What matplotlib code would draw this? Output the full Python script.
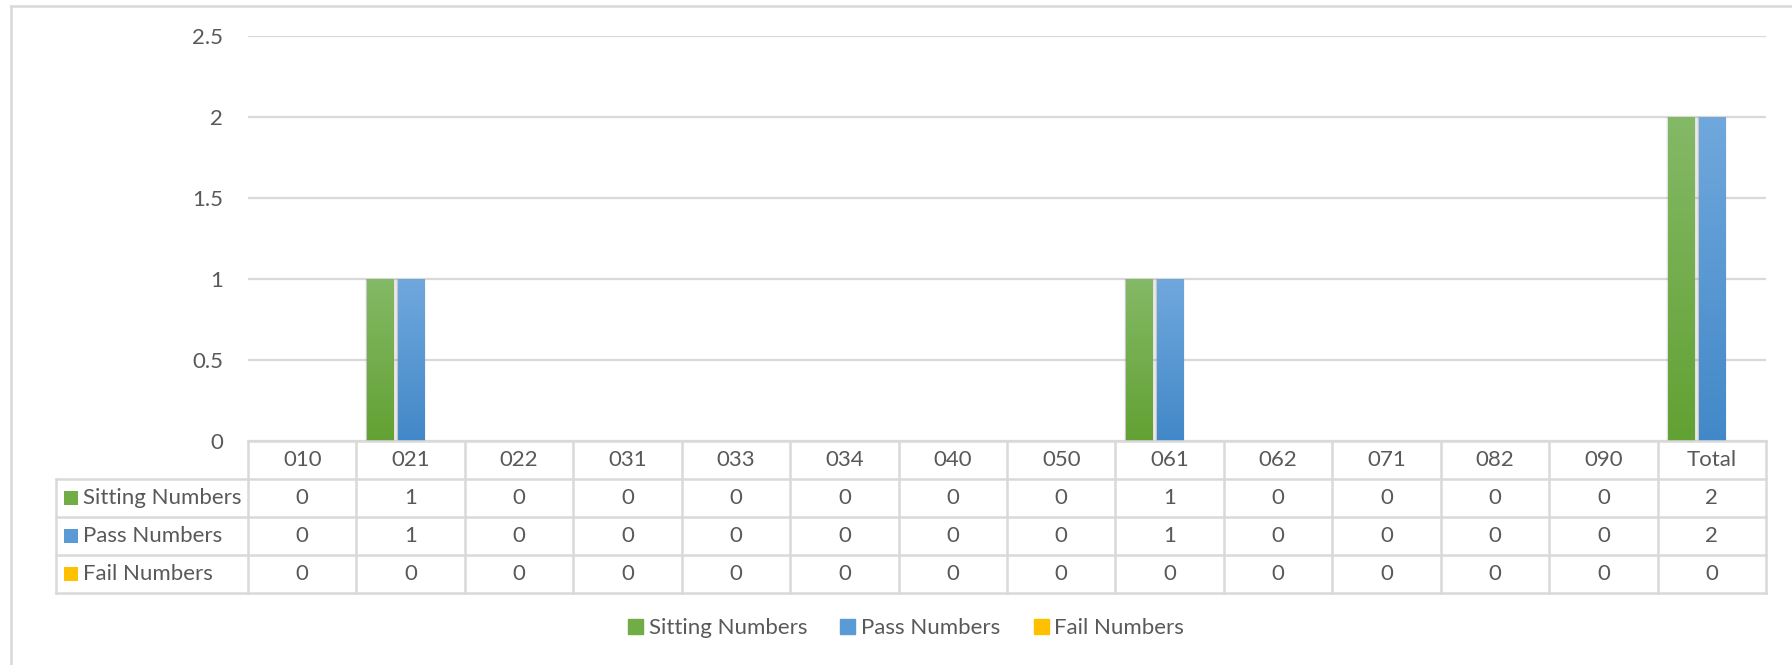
import numpy as np
import matplotlib.pyplot as plt
from matplotlib.patches import Rectangle
from matplotlib.colors import LinearSegmentedColormap

plt.rcParams['font.family'] = ['Lato', 'DejaVu Sans']

categories = ['010', '021', '022', '031', '033', '034', '040', '050', '061', '062', '071', '082', '090', 'Total']
series_names = ['Sitting Numbers', 'Pass Numbers', 'Fail Numbers']
sitting = [0, 1, 0, 0, 0, 0, 0, 0, 1, 0, 0, 0, 0, 2]
passed = [0, 1, 0, 0, 0, 0, 0, 0, 1, 0, 0, 0, 0, 2]
failed = [0, 0, 0, 0, 0, 0, 0, 0, 0, 0, 0, 0, 0, 0]
yticks = [0, 0.5, 1, 1.5, 2, 2.5]
ytick_labels = ['0', '0.5', '1', '1.5', '2', '2.5']

colors = ['#70AD47', '#5B9BD5', '#FFC000']
grad_top = ['#84B966', '#70A8DD', '#FFCB40']
grad_bot = ['#62A133', '#4288C8', '#F0B400']
txt = '#595959'
grid = '#D9D9D9'

W, H = 1792, 665
fig = plt.figure(figsize=(W / 100, H / 100), dpi=100)

# outer frame (only top and left visible in the crop)
fig.add_artist(plt.Line2D([11 / W, 11 / W], [0, 1 - 6 / H], color=grid, lw=1.8))
fig.add_artist(plt.Line2D([11 / W, 1], [1 - 6 / H, 1 - 6 / H], color=grid, lw=1.8))

ax = fig.add_axes([248 / W, 1 - 441 / H, 1518 / W, 405 / H])
n = len(categories)
x = np.arange(n)
ax.set_yticks(yticks)
ax.set_yticklabels(ytick_labels, fontsize=16, color=txt)
ax.tick_params(axis='y', length=0, pad=18)
ax.set_xticks([])
for s in ax.spines.values():
    s.set_visible(False)
ax.grid(axis='y', color=grid, lw=1.6)
ax.set_axisbelow(True)

bw = 0.24
step = 0.28
data = [sitting, passed, failed]
for k, vals in enumerate(data):
    xs = x + (k - 1) * step
    # soft shadow
    for pad, a in [(0.045, 0.08), (0.030, 0.14), (0.016, 0.25)]:
        ax.bar(xs, vals, width=bw + pad, color='#7a7a7a', alpha=a, lw=0, zorder=2)
    bars = ax.bar(xs, vals, width=bw, color=colors[k], lw=0, zorder=3)
    cmap = LinearSegmentedColormap.from_list('g%d' % k, [grad_bot[k], grad_top[k]])
    for b in bars:
        if b.get_height() <= 0:
            continue
        bx = b.get_x()
        im = ax.imshow(np.linspace(0, 1, 256).reshape(-1, 1), cmap=cmap, origin='lower',
                       extent=[bx, bx + b.get_width(), 0, b.get_height()],
                       aspect='auto', zorder=4)
        im.set_clip_path(b)
ax.set_xlim(-0.5, n - 0.5)
ax.set_ylim(0, 2.5)

# data table
lab_w = 192 / 108.43
tx = fig.add_axes([56 / W, 1 - 593 / H, 1710 / W, 152 / H])
x0 = -0.5 - lab_w
tx.set_xlim(x0, n - 0.5)
tx.set_ylim(0, 4)
tx.axis('off')
lk = dict(color=grid, lw=1.8, clip_on=False, solid_capstyle='projecting')
tx.plot([-0.5, n - 0.5], [4, 4], **lk)
for yy in [3, 2, 1, 0]:
    tx.plot([x0, n - 0.5], [yy, yy], **lk)
for i in range(n + 1):
    tx.plot([i - 0.5, i - 0.5], [0, 4], **lk)
tx.plot([x0, x0], [0, 3], **lk)
for i, c in enumerate(categories):
    tx.text(i, 3.5, c, ha='center', va='center', fontsize=16, color=txt)
for r, (name, vals) in enumerate(zip(series_names, data)):
    yc = 2.5 - r
    tx.add_patch(Rectangle((x0 + 0.075, yc - 0.18), 0.13, 0.36, color=colors[r], lw=0))
    tx.text(x0 + 0.25, yc, name, ha='left', va='center', fontsize=16, color=txt)
    for i, v in enumerate(vals):
        tx.text(i, yc, str(v), ha='center', va='center', fontsize=16, color=txt)

handles = [Rectangle((0, 0), 1, 1, color=c) for c in colors]
fig.legend(handles, series_names, loc='center', bbox_to_anchor=(906 / W, 1 - 628 / H),
           ncol=3, frameon=False, fontsize=16, labelcolor=txt, handlelength=0.68,
           handleheight=0.68, handletextpad=0.25, columnspacing=1.5)

fig.savefig('out.png', dpi=100)
